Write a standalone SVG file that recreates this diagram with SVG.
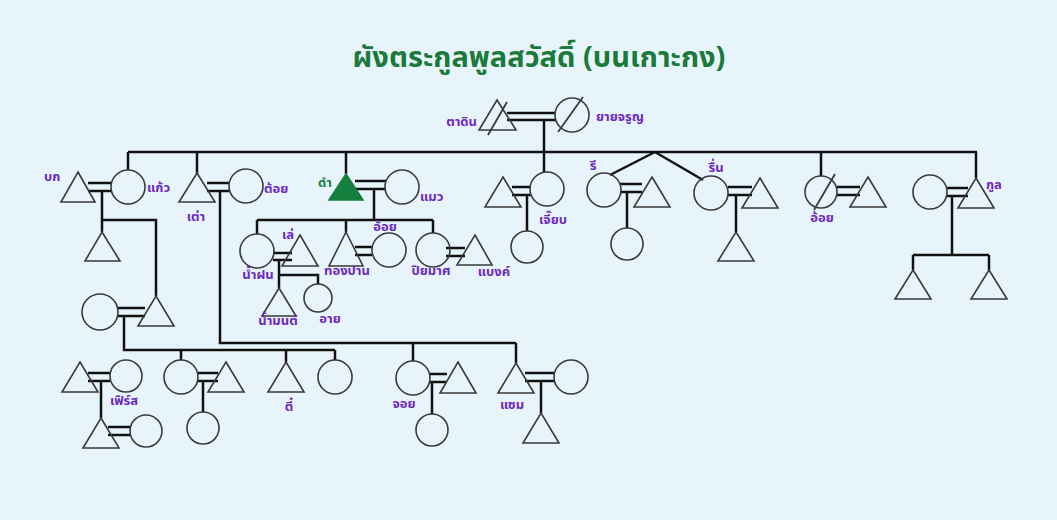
<svg xmlns="http://www.w3.org/2000/svg" width="1057" height="520" viewBox="0 0 1057 520">
<style>
.bg{fill:#e7f4fb}
.sh{fill:none;stroke:#3a3a3a;stroke-width:1.6}
.fill{fill:#15803d;stroke:#15803d;stroke-width:1.6}
.ln{stroke:#111;stroke-width:2.5;fill:none}
.mk{stroke:#3a3a3a;stroke-width:1.8;fill:none}
.lb{font-family:"Noto Sans Thai","Noto Sans","DejaVu Sans",sans-serif;font-size:13px;font-weight:bold;fill:#6d28c0}
.gr{fill:#15803d}
.title{font-family:"Noto Sans Thai","Noto Sans","DejaVu Sans",sans-serif;font-size:29px;font-weight:bold;fill:#1a7a3a}
</style>
<rect class="bg" x="0" y="0" width="1057" height="520"/>
<text class="title" x="539" y="67" text-anchor="middle">ผังตระกูลพูลสวัสดิ์ (บนเกาะกง)</text>

<g id="connectors">
<path class="ln" d="M507 113H556M507 120H556M544 120V152"/>
<path class="ln" d="M128 152H977"/>
<path class="ln" d="M128 152V170M197 152V173M346 152V174M544 152V172M821 152V176M976 152V178"/>
<path class="ln" d="M655 152L610 175M655 152L703 180"/>
<path class="ln" d="M88 183H112M88 191H112M102 191V232M102 220H156V296"/>
<path class="ln" d="M117 308H145M117 316H145M124 316V350H335M181 350V360M286 350V362M335 350V360"/>
<path class="ln" d="M88 373H110M88 381H110M101 381V418M108 427H130M108 435H130"/>
<path class="ln" d="M197 373H218M197 381H218M203 381V412"/>
<path class="ln" d="M207 183H229M207 191H229M220 191V343H516M413 343V361M516 343V363"/>
<path class="ln" d="M429 374H447M429 382H447M432 382V414"/>
<path class="ln" d="M525 373H555M525 381H555M541 381V413"/>
<path class="ln" d="M355 181H386M355 189H386M374 189V220M257 220H433M257 220V234M346 220V232M433 220V233"/>
<path class="ln" d="M273 253H292M273 260H292M279 260V288M279 275H318V284"/>
<path class="ln" d="M355 247H372M355 255H372"/>
<path class="ln" d="M446 248H465M446 256H465"/>
<path class="ln" d="M512 187H531M512 195H531M527 195V231"/>
<path class="ln" d="M620 184H642M620 192H642M627 192V228"/>
<path class="ln" d="M728 187H752M728 195H752M736 195V232"/>
<path class="ln" d="M837 187H860M837 195H860"/>
<path class="ln" d="M947 188H968M947 196H968M952 196V255M913 255H989M913 255V270M989 255V270"/>
</g>

<g id="n-tadin"><polygon class="sh" points="497,100 516,130 479,130"/><path class="mk" d="M507 102L488 135"/><text class="lb" x="477" y="126" text-anchor="end">ตาดิน</text></g>
<g id="n-yaijaroon"><circle class="sh" cx="572" cy="115" r="17"/><path class="mk" d="M583 97L558 132"/><text class="lb" x="596" y="121">ยายจรูญ</text></g>

<g id="n-bok"><polygon class="sh" points="78,172 95,202 61,202"/><text class="lb" x="44" y="181">บก</text></g>
<g id="n-kaew"><circle class="sh" cx="128" cy="187" r="17"/><text class="lb" x="147" y="192">แก้ว</text></g>
<g id="n-bokchild"><polygon class="sh" points="102,232 120,261 85,261"/></g>
<g id="n-father2"><polygon class="sh" points="156,296 174,326 138,326"/></g>
<g id="n-mother2"><circle class="sh" cx="100" cy="312" r="18"/></g>

<g id="n-first-sp"><polygon class="sh" points="80,362 98,392 62,392"/></g>
<g id="n-first"><circle class="sh" cx="126" cy="376" r="16"/><text class="lb" x="110" y="405">เฟิร์ส</text></g>
<g id="n-first-child"><polygon class="sh" points="101,418 119,448 83,448"/></g>
<g id="n-first-child-sp"><circle class="sh" cx="146" cy="431" r="16"/></g>
<g id="n-c2"><circle class="sh" cx="181" cy="377" r="17"/></g>
<g id="n-c2-sp"><polygon class="sh" points="226,362 244,392 208,392"/></g>
<g id="n-c2-child"><circle class="sh" cx="203" cy="428" r="16"/></g>
<g id="n-tee"><polygon class="sh" points="286,362 304,392 268,392"/><text class="lb" x="289" y="411" text-anchor="middle">ตี๋</text></g>
<g id="n-c4"><circle class="sh" cx="335" cy="377" r="17"/></g>

<g id="n-tao"><polygon class="sh" points="197,173 215,202 179,202"/><text class="lb" x="196" y="221" text-anchor="middle">เต่า</text></g>
<g id="n-toi"><circle class="sh" cx="246" cy="186" r="17"/><text class="lb" x="264" y="193">ต้อย</text></g>

<g id="n-joy"><circle class="sh" cx="413" cy="378" r="17"/><text class="lb" x="404" y="408" text-anchor="middle">จอย</text></g>
<g id="n-joy-sp"><polygon class="sh" points="458,362 476,393 440,393"/></g>
<g id="n-joy-child"><circle class="sh" cx="432" cy="430" r="16"/></g>
<g id="n-sam"><polygon class="sh" points="516,363 534,393 498,393"/><text class="lb" x="512" y="409" text-anchor="middle">แซม</text></g>
<g id="n-sam-sp"><circle class="sh" cx="571" cy="377" r="17"/></g>
<g id="n-sam-child"><polygon class="sh" points="541,413 559,443 523,443"/></g>

<g id="n-dam"><polygon class="fill" points="346,174 363,200 329,200"/><text class="lb gr" x="325" y="187" text-anchor="middle">ดำ</text></g>
<g id="n-maew"><circle class="sh" cx="402" cy="187" r="17"/><text class="lb" x="420" y="201">แมว</text></g>

<g id="n-namfon"><circle class="sh" cx="257" cy="251" r="17"/><text class="lb" x="258" y="279" text-anchor="middle">น้ำฝน</text></g>
<g id="n-le"><polygon class="sh" points="300,235 318,266 282,266"/><text class="lb" x="288" y="239" text-anchor="middle">เล่</text></g>
<g id="n-nammon"><polygon class="sh" points="279,288 296,316 262,316"/><text class="lb" x="278" y="325" text-anchor="middle">น้ำมนต์</text></g>
<g id="n-ai"><circle class="sh" cx="318" cy="298" r="14"/><text class="lb" x="330" y="323" text-anchor="middle">อาย</text></g>
<g id="n-thongpan"><polygon class="sh" points="346,232 363,266 329,266"/><text class="lb" x="347" y="275" text-anchor="middle">ทองปาน</text></g>
<g id="n-oi1"><circle class="sh" cx="389" cy="250" r="17"/><text class="lb" x="385" y="231" text-anchor="middle">อ้อย</text></g>
<g id="n-piyamat"><circle class="sh" cx="433" cy="250" r="17"/><text class="lb" x="431" y="275" text-anchor="middle">ปิยมาศ</text></g>
<g id="n-bank"><polygon class="sh" points="475,235 492,265 457,265"/><text class="lb" x="494" y="276" text-anchor="middle">แบงค์</text></g>

<g id="n-jiab"><circle class="sh" cx="547" cy="189" r="17"/><text class="lb" x="553" y="224" text-anchor="middle">เจี๊ยบ</text></g>
<g id="n-jiab-sp"><polygon class="sh" points="503,177 521,207 485,207"/></g>
<g id="n-jiab-child"><circle class="sh" cx="527" cy="247" r="16"/></g>

<g id="n-ree"><circle class="sh" cx="604" cy="190" r="17"/><text class="lb" x="593" y="170" text-anchor="middle">รี</text></g>
<g id="n-ree-sp"><polygon class="sh" points="652,177 670,207 634,207"/></g>
<g id="n-ree-child"><circle class="sh" cx="627" cy="244" r="16"/></g>

<g id="n-ruen"><circle class="sh" cx="711" cy="193" r="17"/><text class="lb" x="716" y="172" text-anchor="middle">รื่น</text></g>
<g id="n-ruen-sp"><polygon class="sh" points="760,178 778,208 742,208"/></g>
<g id="n-ruen-child"><polygon class="sh" points="736,232 754,261 718,261"/></g>

<g id="n-oi2"><circle class="sh" cx="821" cy="192" r="16"/><path class="mk" d="M835 174L814 210"/><text class="lb" x="822" y="222" text-anchor="middle">อ้อย</text></g>
<g id="n-oi2-sp"><polygon class="sh" points="868,177 886,207 850,207"/></g>

<g id="n-koon"><polygon class="sh" points="976,178 994,208 958,208"/><text class="lb" x="986" y="189">กูล</text></g>
<g id="n-koon-sp"><circle class="sh" cx="930" cy="192" r="17"/></g>
<g id="n-koon-c1"><polygon class="sh" points="913,270 931,299 895,299"/></g>
<g id="n-koon-c2"><polygon class="sh" points="989,270 1007,299 971,299"/></g>
</svg>
